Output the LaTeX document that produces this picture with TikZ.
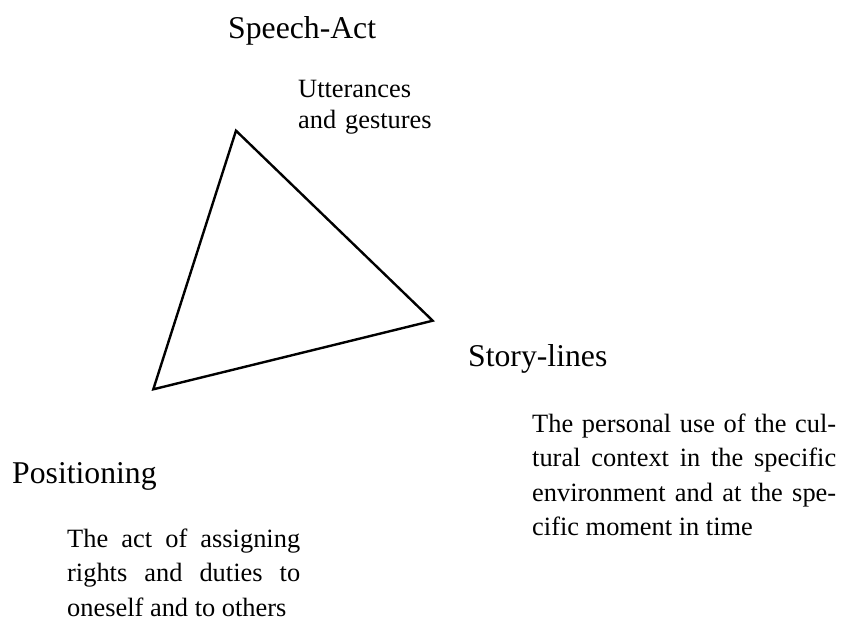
\documentclass[tikz,border=0pt]{standalone}
\usepackage{fontspec}
\setmainfont{Liberation Serif}
\begin{document}
\begin{tikzpicture}[x=1pt,y=-1pt,
  title/.style={font=\fontsize{31.7}{38}\selectfont, anchor=base west, inner sep=0pt},
  note/.style={font=\fontsize{26.4}{31}\selectfont, anchor=base west, inner sep=0pt, align=left},
  para/.style={font=\fontsize{26.4}{34.6}\selectfont, anchor=base west, inner sep=0pt, align=justify},
  edge/.style={line width=2.4pt, line join=miter}]
\useasboundingbox (0,0) rectangle (849,621);
% triangle
\coordinate (top) at (236,130.7);
\coordinate (right) at (432.7,320.7);
\coordinate (left) at (153.3,389.3);
\draw[edge] (top) -- (right) -- (left) -- cycle;
% labels
\node[title] (speech) at (228,38) {Speech-Act};
\node[note, text width=150pt] (utter) at (298,97) {Utterances\\and gestures};
\node[title] (story) at (468,366) {Story-lines};
\node[para, text width=304pt] (storytext) at (532,432)
  {The personal use of the cul-\linebreak tural context in the specific\linebreak environment and at the spe-\linebreak cific moment in time};
\node[title] (pos) at (12,483) {Positioning};
\node[para, text width=233pt] (postext) at (67,547)
  {The act of assigning\linebreak rights and duties to\linebreak oneself and to others};
\end{tikzpicture}
\end{document}
